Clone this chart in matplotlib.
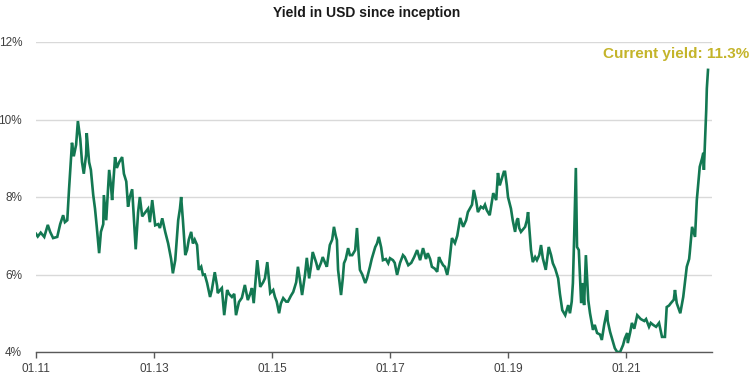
import matplotlib
matplotlib.use("Agg")
import matplotlib.pyplot as plt
from matplotlib import font_manager as fm

# ---------------- data ----------------
years = [
    2011.00, 2011.03, 2011.08, 2011.14, 2011.20, 2011.24, 2011.29, 2011.36, 2011.41, 2011.46,
    2011.49, 2011.53, 2011.56, 2011.61, 2011.64, 2011.68, 2011.71, 2011.75, 2011.78, 2011.81,
    2011.85, 2011.86, 2011.90, 2011.93, 2011.97, 2012.00, 2012.03, 2012.07, 2012.10, 2012.14,
    2012.15, 2012.19, 2012.22, 2012.24, 2012.27, 2012.29, 2012.32, 2012.34, 2012.37, 2012.41,
    2012.46, 2012.49, 2012.53, 2012.56, 2012.59, 2012.63, 2012.66, 2012.69, 2012.73, 2012.76,
    2012.80, 2012.85, 2012.90, 2012.93, 2012.97, 2013.02, 2013.07, 2013.10, 2013.14, 2013.19,
    2013.24, 2013.29, 2013.32, 2013.36, 2013.41, 2013.44, 2013.46, 2013.49, 2013.53, 2013.56,
    2013.59, 2013.63, 2013.66, 2013.69, 2013.73, 2013.76, 2013.80, 2013.83, 2013.86, 2013.90,
    2013.95, 2013.98, 2014.03, 2014.07, 2014.08, 2014.12, 2014.15, 2014.19, 2014.24, 2014.27,
    2014.32, 2014.36, 2014.39, 2014.44, 2014.49, 2014.54, 2014.59, 2014.63, 2014.66, 2014.69,
    2014.75, 2014.80, 2014.85, 2014.88, 2014.92, 2014.97, 2015.02, 2015.05, 2015.08, 2015.12,
    2015.15, 2015.19, 2015.24, 2015.27, 2015.32, 2015.36, 2015.41, 2015.44, 2015.47, 2015.51,
    2015.56, 2015.59, 2015.63, 2015.66, 2015.69, 2015.75, 2015.78, 2015.83, 2015.86, 2015.90,
    2015.93, 2015.98, 2016.02, 2016.05, 2016.08, 2016.10, 2016.12, 2016.17, 2016.20, 2016.22,
    2016.25, 2016.29, 2016.32, 2016.36, 2016.41, 2016.44, 2016.47, 2016.49, 2016.53, 2016.58,
    2016.61, 2016.66, 2016.69, 2016.75, 2016.78, 2016.81, 2016.85, 2016.88, 2016.93, 2016.97,
    2017.00, 2017.05, 2017.08, 2017.12, 2017.17, 2017.22, 2017.25, 2017.31, 2017.36, 2017.41,
    2017.46, 2017.51, 2017.56, 2017.61, 2017.64, 2017.68, 2017.71, 2017.76, 2017.80, 2017.83,
    2017.86, 2017.90, 2017.93, 2017.97, 2018.00, 2018.05, 2018.10, 2018.14, 2018.19, 2018.24,
    2018.29, 2018.32, 2018.39, 2018.42, 2018.46, 2018.49, 2018.54, 2018.58, 2018.61, 2018.64,
    2018.69, 2018.73, 2018.75, 2018.80, 2018.83, 2018.86, 2018.90, 2018.93, 2018.95, 2018.98,
    2019.00, 2019.05, 2019.08, 2019.12, 2019.15, 2019.17, 2019.19, 2019.22, 2019.29, 2019.32,
    2019.34, 2019.37, 2019.39, 2019.42, 2019.46, 2019.49, 2019.53, 2019.56, 2019.59, 2019.64,
    2019.69, 2019.73, 2019.76, 2019.80, 2019.85, 2019.88, 2019.92, 2019.97, 2020.02, 2020.05,
    2020.08, 2020.10, 2020.12, 2020.15, 2020.17, 2020.20, 2020.24, 2020.27, 2020.29, 2020.32,
    2020.36, 2020.39, 2020.44, 2020.47, 2020.51, 2020.56, 2020.59, 2020.63, 2020.68, 2020.69,
    2020.73, 2020.78, 2020.81, 2020.85, 2020.90, 2020.95, 2020.98, 2021.02, 2021.03, 2021.07,
    2021.10, 2021.14, 2021.19, 2021.25, 2021.31, 2021.34, 2021.39, 2021.42, 2021.46, 2021.51,
    2021.56, 2021.61, 2021.66, 2021.69, 2021.73, 2021.76, 2021.81, 2021.83, 2021.86, 2021.92,
    2021.97, 2022.00, 2022.03, 2022.07, 2022.08, 2022.12, 2022.17, 2022.20, 2022.25, 2022.29,
    2022.31, 2022.32, 2022.36, 2022.37, 2022.39,
]
yield_pct = [
    7.05, 6.98, 7.08, 6.97, 7.28, 7.10, 6.94, 6.97, 7.30, 7.53,
    7.35, 7.40, 8.20, 9.40, 9.05, 9.35, 9.96, 9.50, 8.90, 8.60,
    9.10, 9.65, 8.90, 8.70, 8.05, 7.70, 7.23, 6.55, 7.10, 7.30,
    8.05, 7.40, 8.20, 8.70, 8.30, 7.92, 8.60, 9.03, 8.75, 8.90,
    9.03, 8.60, 8.40, 7.75, 8.00, 8.20, 7.40, 6.65, 7.60, 8.00,
    7.50, 7.60, 7.70, 7.35, 7.92, 7.27, 7.30, 7.20, 7.45, 7.10,
    6.80, 6.40, 6.03, 6.37, 7.40, 7.70, 8.00, 7.40, 6.50, 6.63,
    6.90, 7.10, 6.80, 6.90, 6.76, 6.12, 6.20, 5.99, 6.00, 5.78,
    5.42, 5.60, 6.06, 5.70, 5.52, 5.60, 5.65, 4.95, 5.60, 5.50,
    5.42, 5.50, 4.95, 5.29, 5.40, 5.73, 5.34, 5.50, 5.65, 5.26,
    6.37, 5.68, 5.80, 5.90, 6.32, 5.52, 5.60, 5.42, 5.30, 5.00,
    5.25, 5.39, 5.30, 5.30, 5.45, 5.55, 5.80, 6.20, 5.90, 5.47,
    6.00, 6.43, 5.90, 6.20, 6.58, 6.30, 6.12, 6.30, 6.45, 6.30,
    6.20, 6.76, 6.90, 7.23, 7.00, 6.89, 6.12, 5.47, 5.90, 6.29,
    6.40, 6.68, 6.50, 6.50, 6.63, 7.20, 6.50, 6.12, 6.00, 5.78,
    5.90, 6.20, 6.40, 6.71, 6.80, 6.97, 6.70, 6.37, 6.40, 6.29,
    6.42, 6.37, 6.30, 5.99, 6.30, 6.50, 6.45, 6.24, 6.30, 6.45,
    6.63, 6.37, 6.68, 6.40, 6.55, 6.40, 6.20, 6.15, 6.07, 6.45,
    6.35, 6.24, 6.20, 5.99, 6.24, 6.94, 6.81, 7.00, 7.46, 7.23,
    7.40, 7.61, 7.80, 8.18, 7.90, 7.61, 7.75, 7.71, 7.80, 7.66,
    7.53, 7.90, 8.10, 7.92, 8.62, 8.30, 8.50, 8.65, 8.65, 8.30,
    8.00, 7.70, 7.40, 7.10, 7.40, 7.45, 7.20, 7.10, 7.23, 7.40,
    7.61, 7.00, 6.63, 6.32, 6.45, 6.37, 6.50, 6.76, 6.42, 6.12,
    6.71, 6.50, 6.29, 6.15, 5.90, 5.50, 5.08, 4.95, 5.21, 5.00,
    5.30, 5.78, 6.89, 8.75, 6.71, 6.63, 5.26, 5.78, 5.21, 6.50,
    5.34, 5.00, 4.57, 4.70, 4.49, 4.45, 4.31, 4.70, 5.08, 4.80,
    4.52, 4.26, 4.10, 4.00, 4.00, 4.18, 4.35, 4.49, 4.23, 4.50,
    4.75, 4.60, 4.95, 4.85, 4.80, 4.85, 4.65, 4.75, 4.70, 4.65,
    4.75, 4.39, 4.39, 5.16, 5.20, 5.26, 5.35, 5.60, 5.26, 5.00,
    5.42, 5.80, 6.20, 6.40, 6.55, 7.23, 6.97, 7.92, 8.78, 9.00,
    9.14, 8.70, 10.25, 10.80, 11.28,
]
x_tick_pos = [2011, 2013, 2015, 2017, 2019, 2021]
x_tick_labels = ["01.11", "01.13", "01.15", "01.17", "01.19", "01.21"]
y_tick_pos = [4, 6, 8, 10, 12]
y_tick_labels = ["4%", "6%", "8%", "10%", "12%"]
title = "Yield in USD since inception"
annotation = "Current yield: 11.3%"

# ---------------- fonts ----------------
names = {f.name for f in fm.fontManager.ttflist}
narrow = "Liberation Sans Narrow" if "Liberation Sans Narrow" in names else "Liberation Sans"
regular = "Liberation Sans" if "Liberation Sans" in names else "DejaVu Sans"

# ---------------- figure ----------------
fig = plt.figure(figsize=(7.52, 3.78), dpi=100)
ax = fig.add_axes([36 / 752, 1 - 352 / 378, (712 - 36) / 752, (352 - 42) / 378])

ax.plot(years, yield_pct, color="#137852", lw=1.9, solid_joinstyle="miter", zorder=3)

ax.set_xlim(2011.0, 2011.0 + (712 - 36) / 59)
ax.set_ylim(4, 12)

ax.set_yticks(y_tick_pos)
ax.set_yticklabels(y_tick_labels)
ax.set_xticks(x_tick_pos)
ax.set_xticklabels(x_tick_labels)

for lab in ax.get_yticklabels() + ax.get_xticklabels():
    lab.set_fontfamily(narrow)
    lab.set_fontsize(8.5)
    lab.set_color("#404040")

ax.tick_params(axis="y", length=0, pad=10)
ax.tick_params(axis="x", length=4, width=1, color="#595959", pad=4, direction="out")

ax.grid(axis="y", color="#d9d9d9", lw=1)
ax.set_axisbelow(True)
for s in ["top", "right", "left"]:
    ax.spines[s].set_visible(False)
ax.spines["bottom"].set_color("#595959")
ax.spines["bottom"].set_linewidth(1)

fig.text(367 / 752, 1 - 13 / 378, title, ha="center", va="center",
         fontsize=10, fontweight="bold", family=narrow, color="#1a1a1a")
fig.text(749 / 752, 1 - 54 / 378, annotation, ha="right", va="center",
         fontsize=11, fontweight="bold", family=regular, color="#c4b42a")

fig.savefig("out.png", dpi=100)
